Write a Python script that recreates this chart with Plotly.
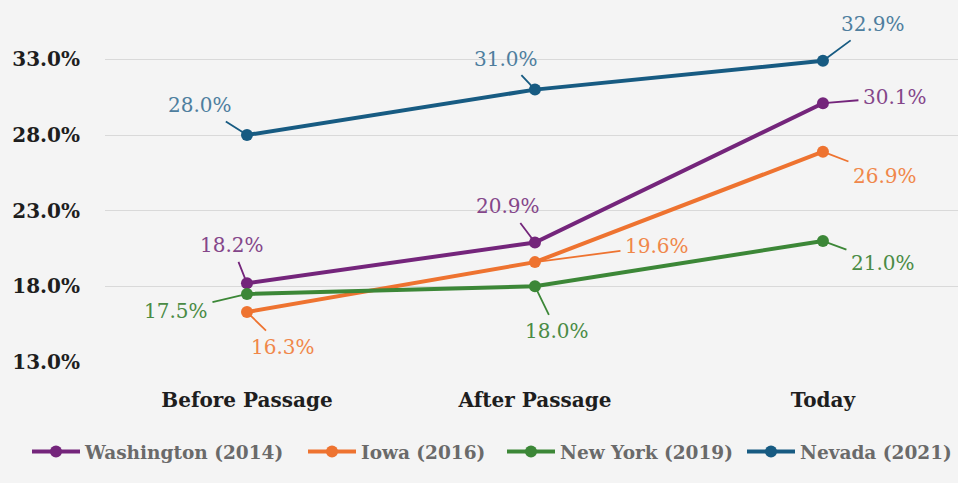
import plotly.graph_objects as go

categories = ["Before Passage", "After Passage", "Today"]
series_names = ["Washington (2014)", "Iowa (2016)", "New York (2019)", "Nevada (2021)"]
washington = [18.2, 20.9, 30.1]
iowa = [16.3, 19.6, 26.9]
new_york = [17.5, 18.0, 21.0]
nevada = [28.0, 31.0, 32.9]
y_ticks = [13.0, 18.0, 23.0, 28.0, 33.0]

line_colors = ["#74257B", "#EE7330", "#3C8737", "#175B82"]
label_colors = ["#84468A", "#F0874A", "#4A8B45", "#4E7E9E"]
# label offsets (px) from each point: (dx, dy)
offsets = [
    [(-15, -38), (-27, -36), (72, -6)],
    [(36, 35), (122, -16), (62, 24)],
    [(-71, 17), (22, 45), (60, 22)],
    [(-47, -30), (-29, -31), (50, -37)],
]
legend_left_px = [27, 303, 502, 742]

FONT = "DejaVu Serif"
fig = go.Figure()
all_series = [washington, iowa, new_york, nevada]
legend_ids = ["legend", "legend2", "legend3", "legend4"]
for name, vals, col, lid in zip(series_names, all_series, line_colors, legend_ids):
    fig.add_trace(go.Scatter(
        x=categories, y=vals, name=name, mode="lines+markers", legend=lid,
        line=dict(color=col, width=4), marker=dict(color=col, size=12),
    ))

annotations = []
for vals, lcol, col, offs in zip(all_series, label_colors, line_colors, offsets):
    for cat, v, (dx, dy) in zip(categories, vals, offs):
        annotations.append(dict(
            x=cat, y=v, xref="x", yref="y", text=f"{v:.1f}%",
            showarrow=True, arrowhead=0, arrowwidth=1.8, arrowcolor=col,
            ax=dx, ay=dy, standoff=4, borderpad=4,
            font=dict(family=FONT, size=20, color=lcol),
        ))

legend_layouts = {}
for lid, left in zip(legend_ids, legend_left_px):
    legend_layouts[lid] = dict(
        orientation="h", xref="container", yref="container",
        x=left / 958, xanchor="left", y=0.064, yanchor="middle",
        font=dict(family=FONT, size=18.5, color="#6A6A6A", weight="bold"),
        itemwidth=48, bgcolor="rgba(0,0,0,0)")

fig.update_layout(
    width=958, height=483,
    paper_bgcolor="#F4F4F4", plot_bgcolor="#F4F4F4",
    margin=dict(l=105, r=0, t=20, b=121),
    font=dict(family=FONT),
    showlegend=True,
    annotations=annotations,
    **legend_layouts,
)
fig.update_xaxes(range=[-0.493, 2.469], showgrid=False, zeroline=False, showline=False,
                 ticks="", ticklabelstandoff=24,
                 tickfont=dict(family=FONT, size=20, color="#1E1E1E", weight="bold"))
fig.update_yaxes(range=[13, 35.6], tickvals=y_ticks,
                 ticktext=[f"{t:.1f}%" for t in y_ticks],
                 showgrid=True, gridcolor="#D9D9D9", gridwidth=1, zeroline=False,
                 showline=False, ticks="", ticklabelstandoff=24,
                 tickfont=dict(family=FONT, size=20, color="#1E1E1E", weight="bold"))

fig.write_html("out.html", config={"displayModeBar": False},
               post_script="document.body.style.margin='0';document.body.style.background='#F4F4F4';")
